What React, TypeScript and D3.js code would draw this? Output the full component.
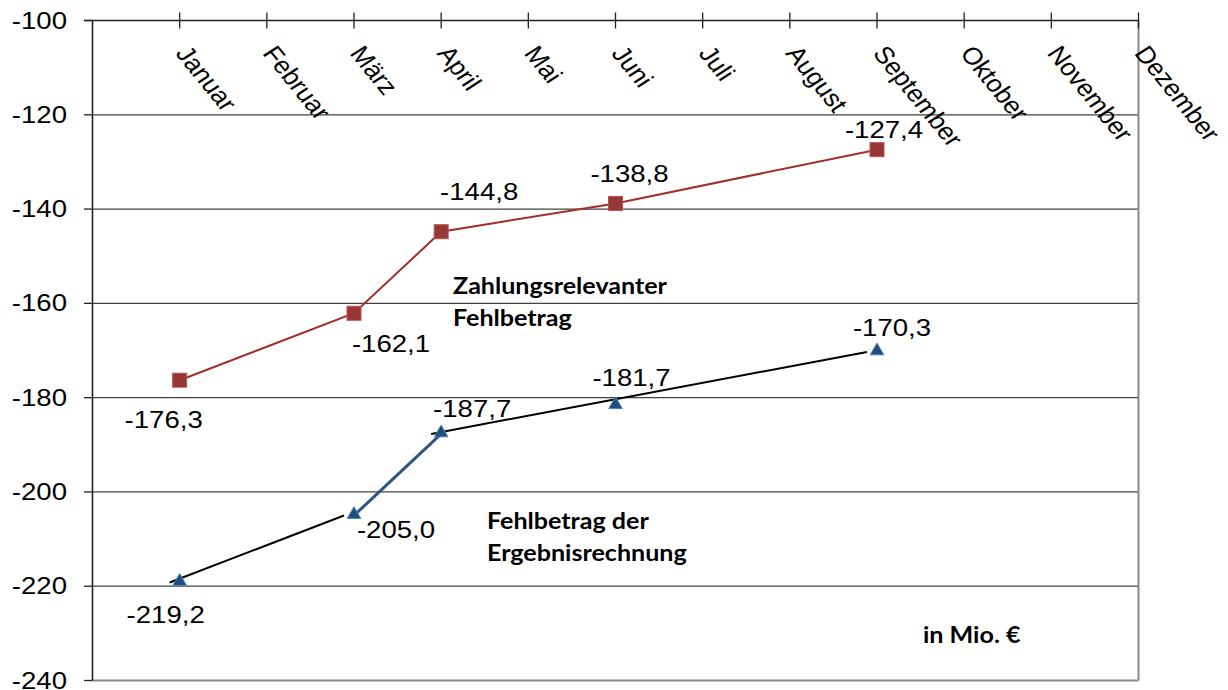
import React, { useEffect, useRef } from "react";
import * as d3 from "d3";

// Monate der Kategorieachse (oben)
const months = [
  "Januar", "Februar", "März", "April", "Mai", "Juni",
  "Juli", "August", "September", "Oktober", "November", "Dezember",
];

// Monate mit Werten
const pointMonths = ["Januar", "März", "April", "Juni", "September"];

// in Mio. €
const zahlungsrelevant = [-176.3, -162.1, -144.8, -138.8, -127.4];
const ergebnisrechnung = [-219.2, -205.0, -187.7, -181.7, -170.3];

const yTicks = [-100, -120, -140, -160, -180, -200, -220, -240];

// label placement relative to the point (dx, dy)
const redLabelPos = [[-16, 48], [37, 39], [38, -32], [14, -21], [7, -12]];
const blueLabelPos = [[-14, 41], [42, 22], [31, -17], [16, -20], [15, -16]];

// segments of the blue series: [from, to, colour, x shift]
const blueSegments: [number, number, string, number][] = [
  [0, 1, "#000000", -10],
  [1, 2, "#2E5481", 0],
  [2, 4, "#000000", -10],
];

const fmt = (v: number) => v.toFixed(1).replace(".", ",");
const SX = 1.2; // the picture is a bit wider than tall

function Chart() {
  const ref = useRef<SVGSVGElement>(null);

  useEffect(() => {
    const svg = d3.select(ref.current);
    svg.selectAll("*").remove();

    const x = d3.scalePoint<string>()
      .domain(["", ...months])
      .range([92.5, 1138.5]);
    const y = d3.scaleLinear()
      .domain([-240, -100])
      .range([680.5, 20.5]);

    const left = 92.5, right = 1138.5;

    // gridlines
    svg.append("g")
      .selectAll("line")
      .data(yTicks.filter(d => d !== -100 && d !== -240))
      .join("line")
      .attr("x1", left).attr("x2", right)
      .attr("y1", d => y(d)).attr("y2", d => y(d))
      .attr("stroke", "#404040").attr("stroke-width", 1.2);

    // right and bottom border
    svg.append("line")
      .attr("x1", right).attr("x2", right)
      .attr("y1", y(-100)).attr("y2", y(-240))
      .attr("stroke", "#8a8a8a").attr("stroke-width", 2);
    svg.append("line")
      .attr("x1", left).attr("x2", right)
      .attr("y1", y(-240)).attr("y2", y(-240))
      .attr("stroke", "#8a8a8a").attr("stroke-width", 2);

    // top category axis
    svg.append("line")
      .attr("x1", 84).attr("x2", right)
      .attr("y1", y(-100)).attr("y2", y(-100))
      .attr("stroke", "#222").attr("stroke-width", 1.6);
    svg.append("g")
      .selectAll("line")
      .data(months)
      .join("line")
      .attr("x1", d => x(d)!).attr("x2", d => x(d)!)
      .attr("y1", y(-100) - 8).attr("y2", y(-100) + 8)
      .attr("stroke", "#222").attr("stroke-width", 1.3);
    svg.append("g")
      .selectAll("text")
      .data(months)
      .join("text")
      .attr("transform", d => `translate(${x(d)! - 5},${y(-100) + 33}) scale(1.12,1) rotate(54)`)
      .attr("font-family", "'Liberation Sans', Arial, sans-serif")
      .attr("font-size", 24)
      .attr("fill", "#000")
      .text(d => d);

    // left value axis
    svg.append("line")
      .attr("x1", left).attr("x2", left)
      .attr("y1", y(-100)).attr("y2", y(-240))
      .attr("stroke", "#222").attr("stroke-width", 1.6);
    svg.append("g")
      .selectAll("line")
      .data(yTicks)
      .join("line")
      .attr("x1", 84).attr("x2", left)
      .attr("y1", d => y(d)).attr("y2", d => y(d))
      .attr("stroke", "#222").attr("stroke-width", 1.3);
    svg.append("g")
      .selectAll("text")
      .data(yTicks)
      .join("text")
      .attr("transform", d => `translate(67,${y(d) + 8}) scale(${SX},1)`)
      .attr("text-anchor", "end")
      .attr("font-family", "'Liberation Sans', Arial, sans-serif")
      .attr("font-size", 23)
      .attr("fill", "#000")
      .text(d => d);

    // Zahlungsrelevanter Fehlbetrag
    const redPts = zahlungsrelevant.map((v, i) => [x(pointMonths[i])!, y(v)] as [number, number]);
    svg.append("path")
      .attr("d", d3.line()(redPts))
      .attr("fill", "none")
      .attr("stroke", "#A0302C")
      .attr("stroke-width", 2);
    svg.append("g")
      .selectAll("rect")
      .data(redPts)
      .join("rect")
      .attr("x", d => d[0] - 7).attr("y", d => d[1] - 7)
      .attr("width", 14).attr("height", 14)
      .attr("fill", "#953735")
      .attr("stroke", "#C0504D").attr("stroke-width", 1);

    // Fehlbetrag der Ergebnisrechnung
    const bluePts = ergebnisrechnung.map((v, i) => [x(pointMonths[i])!, y(v)] as [number, number]);
    blueSegments.forEach(([a, b, col, sh]) => {
      svg.append("line")
        .attr("x1", bluePts[a][0] + sh).attr("y1", bluePts[a][1])
        .attr("x2", bluePts[b][0] + sh).attr("y2", bluePts[b][1])
        .attr("stroke", col)
        .attr("stroke-width", col === "#000000" ? 2 : 3);
    });
    const tri = d3.symbol().type(d3.symbolTriangle).size(80);
    svg.append("g")
      .selectAll("path")
      .data(bluePts)
      .join("path")
      .attr("transform", d => `translate(${d[0]},${d[1] - 1})`)
      .attr("d", tri()!)
      .attr("fill", "#1F4E79")
      .attr("stroke", "#4F81BD").attr("stroke-width", 1);

    // data labels
    const labels = [
      ...zahlungsrelevant.map((v, i) => ({ v, p: redPts[i], o: redLabelPos[i] })),
      ...ergebnisrechnung.map((v, i) => ({ v, p: bluePts[i], o: blueLabelPos[i] })),
    ];
    svg.append("g")
      .selectAll("text")
      .data(labels)
      .join("text")
      .attr("transform", d => `translate(${d.p[0] + d.o[0]},${d.p[1] + d.o[1]}) scale(${SX},1)`)
      .attr("text-anchor", "middle")
      .attr("font-family", "'Liberation Sans', Arial, sans-serif")
      .attr("font-size", 23)
      .attr("fill", "#000")
      .text(d => fmt(d.v));

    // annotations
    const notes: [string, number, number][] = [
      ["Zahlungsrelevanter", 453, 294],
      ["Fehlbetrag", 453, 326],
      ["Fehlbetrag der", 487, 529],
      ["Ergebnisrechnung", 487, 561],
      ["in Mio. €", 923, 643],
    ];
    svg.append("g")
      .selectAll("text")
      .data(notes)
      .join("text")
      .attr("transform", d => `translate(${d[1]},${d[2]}) scale(1.14,1)`)
      .attr("font-family", "Lato, 'Open Sans', sans-serif")
      .attr("font-weight", "bold")
      .attr("font-size", 22)
      .attr("fill", "#000")
      .text(d => d[0]);
  }, []);

  return <svg ref={ref} width={1228} height={690} style={{ display: "block" }} />;
}

export default function App() {
  return (
    <div style={{ position: "absolute", left: 0, top: 0, background: "#fff" }}>
      <Chart />
    </div>
  );
}
